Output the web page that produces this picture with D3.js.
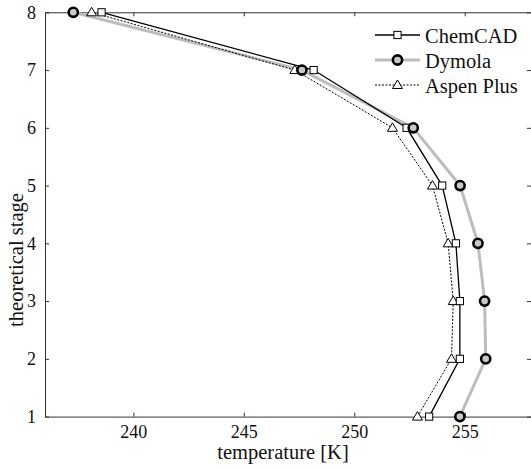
<!DOCTYPE html>
<html>
<head>
<script src="https://d3js.org/d3.v7.min.js"></script>
<style>
  body { margin: 0; background: #fff; }
  svg text { font-family: "Liberation Serif", "Times New Roman", serif !important; fill: #111; }
</style>
</head>
<body>
<div class="graph"></div>
<script>
const stages = [1, 2, 3, 4, 5, 6, 7, 8];
const chemcad = [253.39, 254.78, 254.78, 254.6, 253.98, 252.37, 248.16, 238.56];
const dymola = [254.78, 255.95, 255.9, 255.6, 254.79, 252.67, 247.63, 237.28];
const aspen = [252.86, 254.4, 254.48, 254.25, 253.54, 251.73, 247.31, 238.11];
const xTicks = [240, 245, 250, 255];
const yTicks = [1, 2, 3, 4, 5, 6, 7, 8];

const width = 531, height = 468;
const mLeft = 45, mRight = 531, mTop = 12.3, mBottom = 416.6;

const x = d3.scaleLinear().domain([236, 258]).range([mLeft, mRight]);
const y = d3.scaleLinear().domain([1, 8]).range([mBottom, mTop]);

const svg = d3.select(".graph").append("svg")
  .attr("width", width).attr("height", height);

// axes with inward ticks on all four sides
function styleAxis(g) {
  g.attr("font-family", null).attr("font-size", null);
  g.selectAll("path.domain").attr("stroke", "#333").attr("stroke-width", 1);
  g.selectAll(".tick line").attr("stroke", "#333");
  g.selectAll(".tick text").style("font-size", "18px").attr("fill", "#111");
}

svg.append("g")
  .attr("transform", `translate(0,${mBottom})`)
  .call(d3.axisBottom(x).tickValues(xTicks).tickFormat(d3.format("d")).tickSizeInner(-4).tickSizeOuter(0).tickPadding(9))
  .call(styleAxis);
svg.append("g")
  .attr("transform", `translate(0,${mTop})`)
  .call(d3.axisTop(x).tickValues(xTicks).tickSizeInner(-4).tickSizeOuter(0).tickFormat(""))
  .call(styleAxis);
svg.append("g")
  .attr("transform", `translate(${mLeft},0)`)
  .call(d3.axisLeft(y).tickValues(yTicks).tickFormat(d3.format("d")).tickSizeInner(-4).tickSizeOuter(0).tickPadding(9))
  .call(styleAxis);
svg.append("g")
  .attr("transform", `translate(${mRight},0)`)
  .call(d3.axisRight(y).tickValues(yTicks).tickSizeInner(-4).tickSizeOuter(0).tickFormat(""))
  .call(styleAxis);

svg.append("text")
  .attr("x", 283).attr("y", 459)
  .attr("text-anchor", "middle").style("font-size", "20.5px")
  .text("temperature [K]");
svg.append("text")
  .attr("transform", "translate(23,260) rotate(-90)")
  .attr("text-anchor", "middle").style("font-size", "20.5px")
  .text("theoretical stage");

const series = [
  { name: "Dymola", vals: dymola, stroke: "#bdbdbd", width: 3, dash: null, marker: "circle" },
  { name: "ChemCAD", vals: chemcad, stroke: "#000", width: 1.3, dash: null, marker: "square" },
  { name: "Aspen Plus", vals: aspen, stroke: "#000", width: 1, dash: "2,1.5", marker: "triangle" }
];

const line = d3.line().x(d => x(d[0])).y(d => y(d[1]));

function drawMarker(g, type, cx, cy) {
  if (type === "circle") {
    g.append("circle").attr("cx", cx).attr("cy", cy).attr("r", 4.6)
      .attr("fill", "#c8c8c8").attr("stroke", "#000").attr("stroke-width", 2.6);
  } else if (type === "square") {
    g.append("rect").attr("x", cx - 3.6).attr("y", cy - 3.6).attr("width", 7.2).attr("height", 7.2)
      .attr("fill", "#fff").attr("stroke", "#000").attr("stroke-width", 1);
  } else {
    g.append("path")
      .attr("d", `M${cx},${cy - 5}L${cx + 5},${cy + 3.5}L${cx - 5},${cy + 3.5}Z`)
      .attr("fill", "#fff").attr("stroke", "#000").attr("stroke-width", 1);
  }
}

const plot = svg.append("g");
series.forEach(s => {
  const pts = s.vals.map((v, i) => [v, stages[i]]);
  plot.append("path")
    .attr("d", line(pts))
    .attr("fill", "none")
    .attr("stroke", s.stroke)
    .attr("stroke-width", s.width)
    .attr("stroke-dasharray", s.dash);
});
series.slice().reverse().forEach(s => {
  s.vals.forEach((v, i) => drawMarker(plot, s.marker, x(v), y(stages[i])));
});

// legend
const legendOrder = [series[1], series[0], series[2]];
const lg = svg.append("g");
legendOrder.forEach((s, i) => {
  const ly = 35 + i * 25;
  lg.append("line").attr("x1", 375).attr("x2", 420).attr("y1", ly).attr("y2", ly)
    .attr("stroke", s.stroke).attr("stroke-width", s.width).attr("stroke-dasharray", s.dash);
  drawMarker(lg, s.marker, 397.5, ly);
  lg.append("text").attr("x", 425).attr("y", ly + 8).style("font-size", "20.5px").text(s.name);
});
</script>
</body>
</html>
